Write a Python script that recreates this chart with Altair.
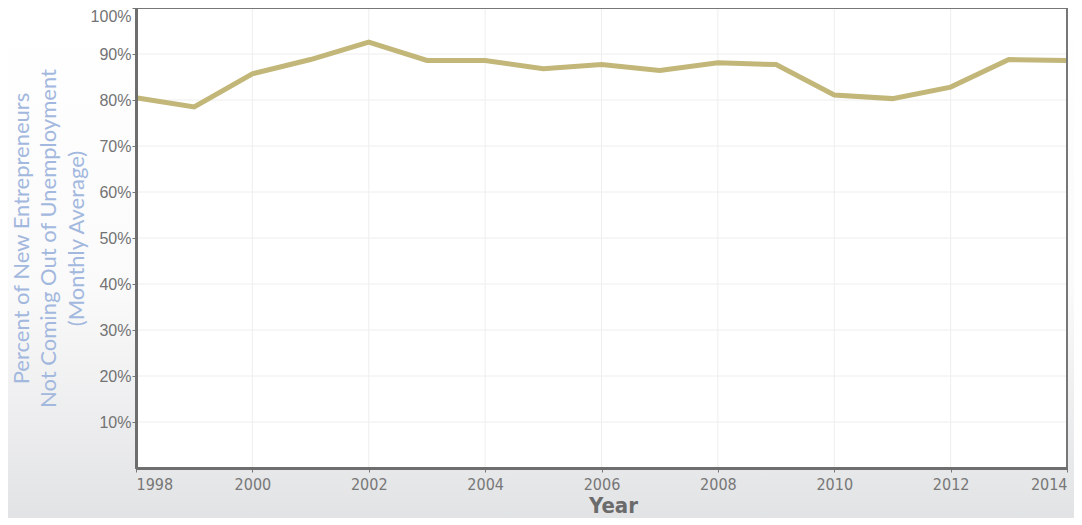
import altair as alt
import pandas as pd

years = list(range(1998, 2015))
pct = [80.5, 78.5, 85.7, 88.8, 92.6, 88.6, 88.6, 86.8, 87.7, 86.4, 88.1, 87.7, 81.1, 80.3, 82.8, 88.8, 88.6]
grid_years = [1998, 2000, 2002, 2004, 2006, 2008, 2010, 2012, 2014]
grid_pcts = [10, 20, 30, 40, 50, 60, 70, 80, 90, 100]

W, H = 931, 460
PL, PR, PT, PB = 128, 7, 0, 50

df = pd.DataFrame({"year": years, "pct": pct})
gx = pd.DataFrame({"year": grid_years})
gy = pd.DataFrame({"pct": grid_pcts})
one = pd.DataFrame({"a": [0]})

xscale = alt.Scale(domain=[1998, 2014], nice=False, zero=False)
yscale = alt.Scale(domain=[0, 100], nice=False)

NARROW = "Liberation Sans Narrow, Arial Narrow, DejaVu Sans Condensed, Liberation Sans, sans-serif"
xaxis = alt.Axis(values=grid_years, format="d", grid=False, labelFlush=True,
                 tickSize=4, tickColor="#777777", tickWidth=1,
                 domainColor="#6e6e6e", domainWidth=3,
                 labelFont=NARROW, labelFontSize=16, labelColor="#777777", labelPadding=4,
                 titleFont=NARROW, titleFontSize=22, titleFontWeight="bold", titleColor="#6b6b6b",
                 titlePadding=3, titleX=477, zindex=1)
yaxis = alt.Axis(values=grid_pcts, labelExpr="datum.value + '%'", grid=False, labelFlush=True,
                 tickSize=4, tickColor="#777777", tickWidth=1,
                 domainColor="#6e6e6e", domainWidth=3,
                 labelFont="Liberation Sans, Arial, sans-serif", labelFontSize=16,
                 labelColor="#737373", labelPadding=1,
                 titleFont="Lato, Open Sans, sans-serif", titleFontSize=22,
                 titleFontWeight="normal", titleColor="#a3b8de", titleLineHeight=27.5,
                 titlePadding=2, zindex=1)
ytitle = ["Percent of New Entrepreneurs", "Not Coming Out of Unemployment", "(Monthly Average)"]

bg = alt.Chart(one).mark_rect(
    fill=alt.Gradient(
        gradient="linear",
        stops=[alt.GradientStop(offset=0, color="#ffffff"),
               alt.GradientStop(offset=0.55, color="#fafafa"),
               alt.GradientStop(offset=1, color="#e2e3e5")],
        x1=0, x2=0, y1=0, y2=1),
).encode(x=alt.value(-PL), x2=alt.value(W + PR), y=alt.value(-PT), y2=alt.value(H + PB))

white = alt.Chart(one).mark_rect(fill="#ffffff").encode(
    x=alt.value(0), x2=alt.value(W), y=alt.value(0), y2=alt.value(H))

vgrid = alt.Chart(gx).mark_rule(color="#eeeeee", strokeWidth=1).encode(
    x=alt.X("year:Q", scale=xscale, title="Year", axis=xaxis))
hgrid = alt.Chart(gy).mark_rule(color="#eeeeee", strokeWidth=1).encode(
    y=alt.Y("pct:Q", scale=yscale, title=ytitle, axis=yaxis))

line = alt.Chart(df).mark_line(color="#c2b779", strokeWidth=5, strokeJoin="miter").encode(
    x=alt.X("year:Q", scale=xscale, title="Year", axis=xaxis),
    y=alt.Y("pct:Q", scale=yscale, title=ytitle, axis=yaxis),
)

frame = alt.Chart(one).mark_rect(filled=False, stroke="#777777", strokeWidth=2).encode(
    x=alt.value(0), x2=alt.value(W), y=alt.value(0), y2=alt.value(H))

chart = alt.layer(bg, white, vgrid, hgrid, line, frame).properties(
    width=W, height=H,
    autosize=alt.AutoSizeParams(type="none"),
    padding={"left": PL, "right": PR, "top": PT, "bottom": PB},
).configure_view(stroke=None)

chart.save("out.html", embed_options={"renderer": "svg", "actions": False})
